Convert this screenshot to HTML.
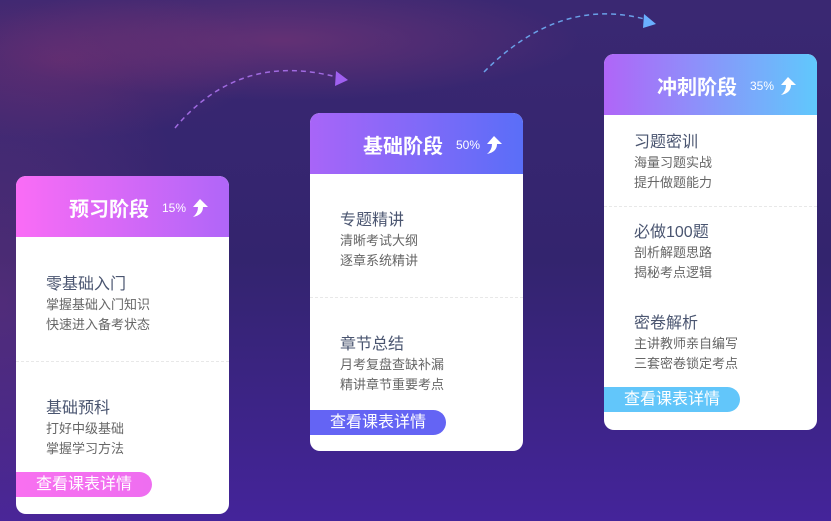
<!DOCTYPE html>
<html><head><meta charset="utf-8"><style>
*{margin:0;padding:0;box-sizing:border-box}
body{width:831px;height:521px;overflow:hidden;position:relative;font-family:"Liberation Sans","Noto Sans CJK SC",sans-serif;
background:radial-gradient(ellipse 300px 60px at 280px 40px,rgba(150,60,120,.45),transparent),radial-gradient(ellipse 200px 80px at 60px 60px,rgba(140,50,110,.4),transparent),radial-gradient(ellipse 200px 300px at 0px 300px,rgba(130,60,130,.35),transparent),linear-gradient(180deg,#3a2872 0%,#33246e 50%,#44249a 100%);}
.card{position:absolute;width:213px;background:#fff;border-radius:10px;overflow:hidden}
.hd{height:61px;color:#fff;position:relative}
.t{position:absolute;top:17px;font-size:20px;font-weight:bold;letter-spacing:0px}
.p{position:absolute;top:25px;font-size:12px}
.ar{position:absolute;top:22px;width:20px;height:20px}
.it{position:absolute;left:30px}
.it b{display:block;font-weight:normal;font-size:16px;color:#4a5570;line-height:20px}
.it span{display:block;font-size:13px;color:#666;line-height:20px}
.dv{position:absolute;left:0;right:0;border-top:1px dashed #e8e8e8}
.btn{position:absolute;left:0;width:136px;height:25px;border-radius:0 13px 13px 0;color:#fff;font-size:16px;line-height:25px;padding-left:20px}
</style></head><body>
<svg width="831" height="521" style="position:absolute;left:0;top:0">
<path d="M175 128 Q240 50 340 78" fill="none" stroke="#a06ae0" stroke-width="1.5" stroke-dasharray="5,4"/>
<polygon points="336,71 348,80 335,86" fill="#a060f0"/>
<path d="M484 72 Q560 -5 648 20" fill="none" stroke="#6aa0e8" stroke-width="1.5" stroke-dasharray="5,4"/>
<polygon points="644,14 656,24 643,28" fill="#6ab0ff"/>
</svg>
<svg width="0" height="0"><defs><symbol id="a" viewBox="0 0 20 20"><path d="M10 1 L18 9 L13 9 Q13 17 3 19 Q8 15 8 9 L3 9 Z" fill="#fff"/></symbol></defs></svg>

<div class="card" style="left:16px;top:176px;height:338px">
<div class="hd" style="background:linear-gradient(90deg,#fa6cf6,#b066f8)">
<div class="t" style="left:53px">预习阶段</div><div class="p" style="left:146px">15%</div><svg class="ar" style="left:174px"><use href="#a"/></svg></div>
<div class="it" style="top:99px"><b>零基础入门</b><span>掌握基础入门知识</span><span>快速进入备考状态</span></div>
<div class="dv" style="top:185px"></div>
<div class="it" style="top:223px"><b>基础预科</b><span>打好中级基础</span><span>掌握学习方法</span></div>
<div class="btn" style="top:296px;background:linear-gradient(90deg,#f870f0,#ee6ef0)">查看课表详情</div>
</div>

<div class="card" style="left:310px;top:113px;height:338px">
<div class="hd" style="background:linear-gradient(90deg,#a865f8,#5a6ef8)">
<div class="t" style="left:53px">基础阶段</div><div class="p" style="left:146px">50%</div><svg class="ar" style="left:174px"><use href="#a"/></svg></div>
<div class="it" style="top:98px"><b>专题精讲</b><span>清晰考试大纲</span><span>逐章系统精讲</span></div>
<div class="dv" style="top:184px"></div>
<div class="it" style="top:222px"><b>章节总结</b><span>月考复盘查缺补漏</span><span>精讲章节重要考点</span></div>
<div class="btn" style="top:297px;background:#6464f4">查看课表详情</div>
</div>

<div class="card" style="left:604px;top:54px;height:376px">
<div class="hd" style="background:linear-gradient(90deg,#b065f8,#60c8fc)">
<div class="t" style="left:53px">冲刺阶段</div><div class="p" style="left:146px">35%</div><svg class="ar" style="left:174px"><use href="#a"/></svg></div>
<div class="it" style="top:79px"><b>习题密训</b><span>海量习题实战</span><span>提升做题能力</span></div>
<div class="dv" style="top:152px"></div>
<div class="it" style="top:169px"><b>必做100题</b><span>剖析解题思路</span><span>揭秘考点逻辑</span></div>
<div class="it" style="top:260px"><b>密卷解析</b><span>主讲教师亲自编写</span><span>三套密卷锁定考点</span></div>
<div class="btn" style="top:333px;background:#62c6fa">查看课表详情</div>
</div>
</body></html>
